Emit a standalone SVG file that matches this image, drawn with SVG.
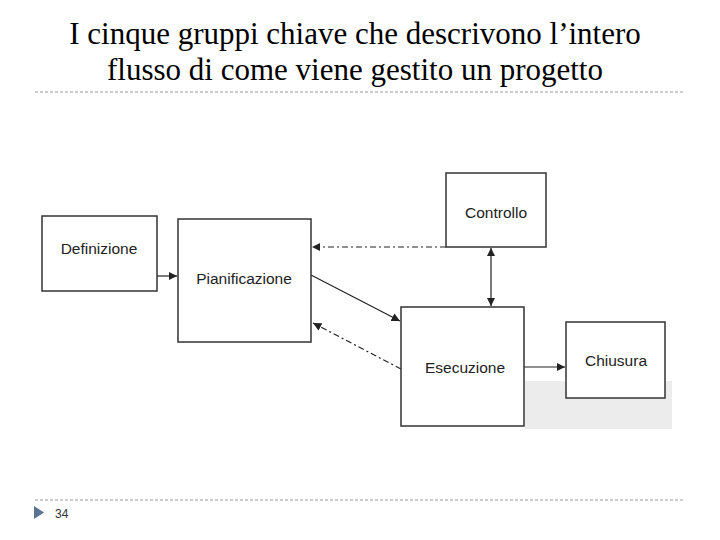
<svg xmlns="http://www.w3.org/2000/svg" width="720" height="540" viewBox="0 0 720 540">
<style>
.t{font-family:"Liberation Serif",serif;font-size:31px;fill:#000;text-anchor:middle}
.b{fill:#fff;stroke:#333;stroke-width:1.5}
.l{font-family:"Liberation Sans",Arial,sans-serif;font-size:15.5px;fill:#222;text-anchor:middle}
.c{stroke:#222;stroke-width:1.2;fill:none}
.d{stroke-dasharray:6 3 2 3}
.sep{stroke:#9a9a9a;stroke-width:1;stroke-dasharray:3 2}
</style>
<defs>
<marker id="a" viewBox="0 0 10 10" refX="10" refY="5" markerWidth="7" markerHeight="7" orient="auto-start-reverse"><path d="M0,0L10,5L0,10z" fill="#222"/></marker>
</defs>
<rect width="720" height="540" fill="#fff"/>
<text class="t" x="355" y="44">I cinque gruppi chiave che descrivono l’intero</text>
<text class="t" x="355" y="80">flusso di come viene gestito un progetto</text>
<line class="sep" x1="35" y1="92" x2="685" y2="92"/>
<line class="sep" x1="35" y1="500" x2="685" y2="500"/>
<path d="M34,506L44,512.5L34,519z" fill="#5a7391"/>
<text x="55" y="518" font-family="Liberation Sans,Arial,sans-serif" font-size="12" fill="#333">34</text>
<rect x="525" y="381" width="147" height="48" fill="#ececec"/>
<g id="connectors">
<line class="c" x1="157" y1="276" x2="177" y2="276" marker-end="url(#a)"/>
<line class="c d" x1="446" y1="247" x2="312" y2="247" marker-end="url(#a)"/>
<line class="c" x1="311" y1="275" x2="400" y2="321" marker-end="url(#a)"/>
<line class="c d" x1="401" y1="369" x2="313" y2="323" marker-end="url(#a)"/>
<line class="c" x1="491" y1="248" x2="491" y2="306" marker-start="url(#a)" marker-end="url(#a)"/>
<line class="c" x1="524" y1="367" x2="565" y2="367" marker-end="url(#a)"/>
</g>
<g id="definizione"><rect class="b" x="42" y="216" width="115" height="75"/><text class="l" x="99" y="254">Definizione</text></g>
<g id="pianificazione"><rect class="b" x="178" y="219" width="133" height="123"/><text class="l" x="244" y="284">Pianificazione</text></g>
<g id="controllo"><rect class="b" x="446" y="173" width="100" height="74"/><text class="l" x="496" y="218">Controllo</text></g>
<g id="esecuzione"><rect class="b" x="401" y="307" width="123" height="119"/><text class="l" x="465" y="373">Esecuzione</text></g>
<g id="chiusura"><rect class="b" x="566" y="322" width="99" height="76"/><text class="l" x="616" y="366">Chiusura</text></g>
</svg>
